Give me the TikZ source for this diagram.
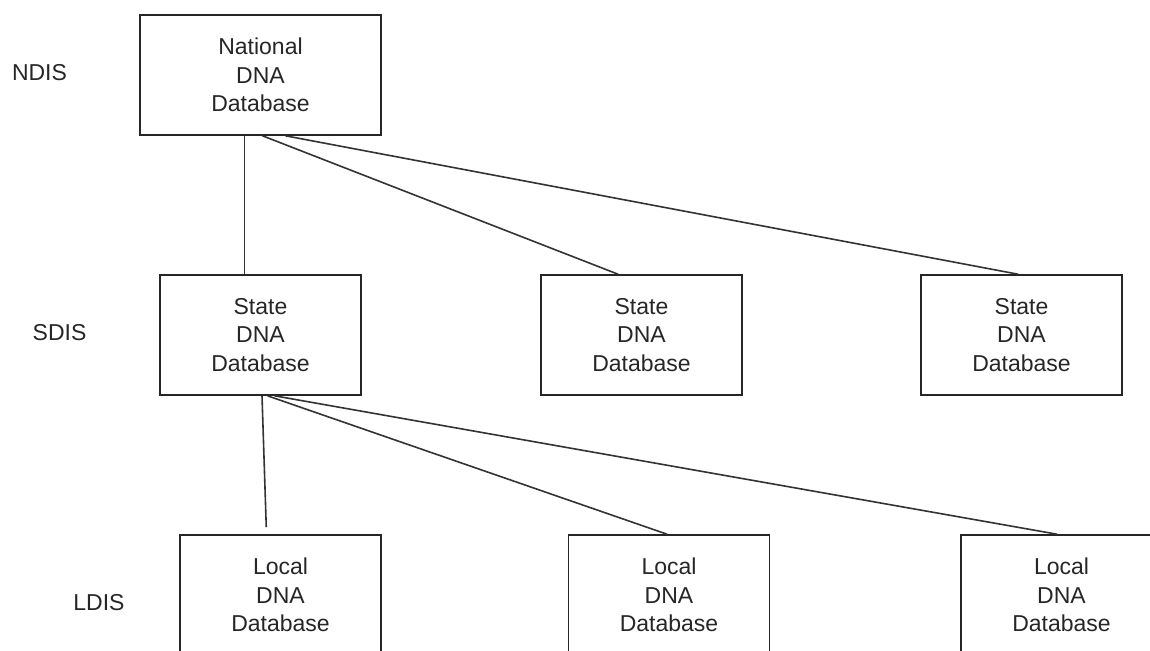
\documentclass[tikz,border=0pt]{standalone}
\usepackage{fontspec}
\setmainfont{Liberation Sans}
\usepackage{tikz}

\begin{document}
\begin{tikzpicture}[x=1pt,y=1pt]
\tikzstyle{db}=[rectangle, draw=black!85, line width=1.6pt, minimum width=201pt, minimum height=120pt, inner sep=0pt, align=center, text=black!85, font=\fontsize{23}{28.5}\selectfont]
\tikzstyle{tier}=[text=black!85, font=\fontsize{23}{28.5}\selectfont]
\tikzstyle{connect}=[line width=1.6pt, draw=black!80]

  \useasboundingbox (0,0) rectangle (1150,-650);

  % levels
  \node[tier] (ndis) at (39.5,-73)  {NDIS};
  \node[tier] (sdis) at (59.5,-333) {SDIS};
  \node[tier] (ldis) at (99,-603)   {LDIS};

  \node[db, minimum width=241pt] (nat) at (260.5,-75) {National\\DNA\\Database};
  \node[db] (st1) [below of=nat, node distance=260pt] {State\\DNA\\Database};
  \node[db] (st2) [right of=st1, node distance=381pt] {State\\DNA\\Database};
  \node[db] (st3) [right of=st2, node distance=380pt] {State\\DNA\\Database};
  \node[db] (lc1) [below of=st1, node distance=260pt, xshift=20pt] {Local\\DNA\\Database};
  \node[db] (lc2) [right of=lc1, node distance=388.5pt] {Local\\DNA\\Database};
  \node[db] (lc3) [right of=lc2, node distance=392.5pt] {Local\\DNA\\Database};

  \path ([xshift=-16pt]nat.south) edge [connect] ([xshift=-16pt]st1.north)
        ([xshift=2pt]nat.south)   edge [connect] ([xshift=-23.5pt]st2.north)
        ([xshift=25pt]nat.south)  edge [connect] ([xshift=-3.5pt]st3.north)
        ([xshift=1.5pt]st1.south) edge [connect, shorten >=7pt] ([xshift=-14pt]lc1.north)
        ([xshift=7pt]st1.south)   edge [connect] ([xshift=-2pt]lc2.north)
        ([xshift=14pt]st1.south)  edge [connect] ([xshift=-4.5pt]lc3.north);

\end{tikzpicture}
\end{document}
